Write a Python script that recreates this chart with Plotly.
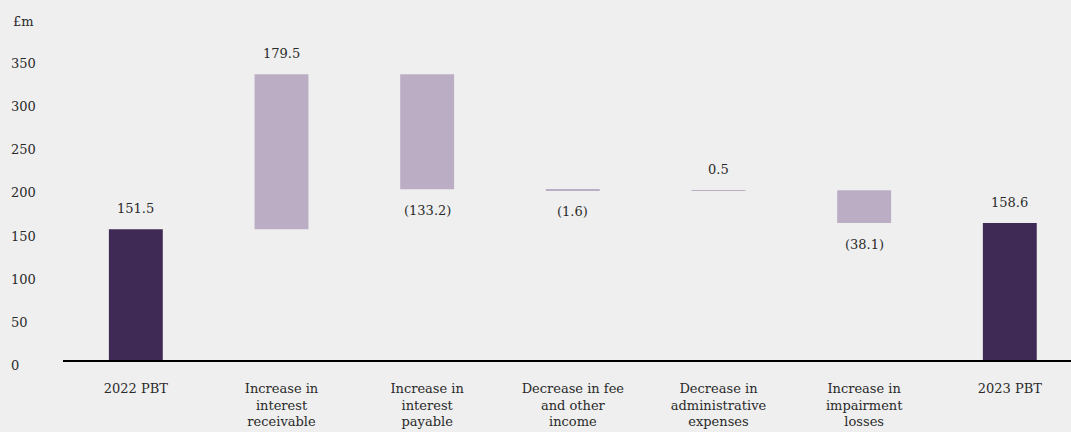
import plotly.graph_objects as go

# Profit before tax bridge, 2022 -> 2023 (£m)
categories = [
    "2022 PBT",
    "Increase in<br>interest<br>receivable",
    "Increase in<br>interest<br>payable",
    "Decrease in fee<br>and other<br>income",
    "Decrease in<br>administrative<br>expenses",
    "Increase in<br>impairment<br>losses",
    "2023 PBT",
]
values = [151.5, 179.5, -133.2, -1.6, 0.5, -38.1, 158.6]
measures = ["absolute", "relative", "relative", "relative", "relative", "relative", "total"]
value_labels = ["151.5", "179.5", "(133.2)", "(1.6)", "0.5", "(38.1)", "158.6"]
y_ticks = [0, 50, 100, 150, 200, 250, 300, 350]

DARK = "#3f2a56"
LIGHT = "#bbaec4"
BG = "#efefef"
TEXT = "#2a2a2a"
FONT = "DejaVu Serif"

fig = go.Figure(
    go.Waterfall(
        x=categories,
        y=values,
        measure=measures,
        width=0.37,
        connector=dict(visible=False),
        increasing=dict(marker=dict(color=LIGHT)),
        decreasing=dict(marker=dict(color=LIGHT)),
        totals=dict(marker=dict(color=DARK)),
        hoverinfo="skip",
    )
)

# Value labels: above the bar for totals and increases, below for decreases
annotations = []
running = 0.0
for cat, m, v, lab in zip(categories, measures, values, value_labels):
    if m == "absolute":
        start, end = 0.0, v
        running = v
    elif m == "total":
        start, end = 0.0, running
    else:
        start, end = running, running + v
        running = end
    top, bottom = max(start, end), min(start, end)
    if m != "relative" or v >= 0:
        annotations.append(dict(x=cat, y=top, text=lab, yshift=21))
    else:
        annotations.append(dict(x=cat, y=bottom, text=lab, yshift=-21))

for a in annotations:
    a.update(xref="x", yref="y", showarrow=False, xanchor="center", yanchor="middle",
             font=dict(family=FONT, size=13, color=TEXT))

# Left-aligned y tick labels
for t in y_ticks:
    annotations.append(dict(
        x=0, y=t, xref="paper", yref="y", xanchor="left", yanchor="middle",
        xshift=-54, yshift=-5.5, text=str(t), showarrow=False,
        font=dict(family=FONT, size=13, color=TEXT),
    ))

annotations.append(dict(
    x=0, y=1, xref="paper", yref="paper", xanchor="left", yanchor="middle",
    xshift=-52, yshift=11, text="£m", showarrow=False,
    font=dict(family=FONT, size=13, color=TEXT),
))

fig.update_layout(
    width=1071,
    height=432,
    margin=dict(l=63, r=0, t=32, b=72),
    paper_bgcolor=BG,
    plot_bgcolor=BG,
    showlegend=False,
    font=dict(family=FONT, size=13, color=TEXT),
    annotations=annotations,
    xaxis=dict(
        type="category",
        range=[-0.5, 6.42],
        showgrid=False,
        zeroline=False,
        showline=True,
        linecolor="#000000",
        linewidth=2,
        ticks="",
        ticklabelstandoff=15,
        tickfont=dict(family=FONT, size=13, color=TEXT),
    ),
    yaxis=dict(
        range=[0, 380],
        showgrid=False,
        zeroline=False,
        showline=False,
        showticklabels=False,
        ticks="",
    ),
)

fig.write_html("out.html")
